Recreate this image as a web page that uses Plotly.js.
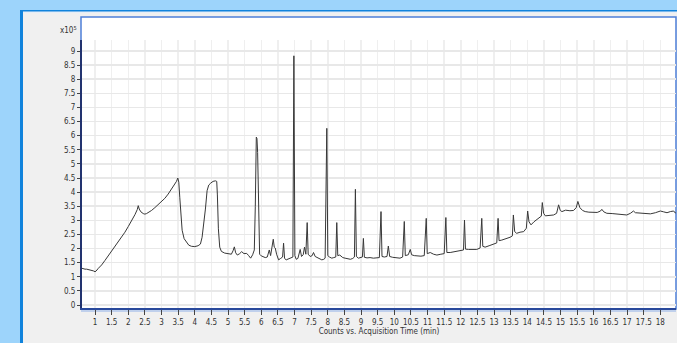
<!DOCTYPE html>
<html>
<head>
<meta charset="utf-8">
<script src="https://cdn.plot.ly/plotly-3.0.1.min.js"></script>
<style>
html,body{margin:0;padding:0;background:#9dd4fb;}
#chart{width:677px;height:343px;}
</style>
</head>
<body>
<div id="chart"></div>
<script>
// Acquisition time (min)
const timeMin = [
0.61,0.65,0.70,0.75,0.80,0.85,0.90,0.95,1.00,1.03,
1.10,1.20,1.30,1.40,1.50,1.60,1.70,1.80,1.90,2.00,2.10,2.20,2.27,2.30,2.33,2.38,2.45,2.50,2.55,2.60,
2.70,2.80,2.90,3.00,3.10,3.20,3.30,3.40,3.45,3.49,3.52,3.55,3.58,3.62,3.68,3.75,3.82,3.90,4.00,4.10,
4.17,4.22,4.27,4.32,4.37,4.42,4.48,4.55,4.62,4.66,4.68,4.71,4.75,4.80,4.90,5.00,5.10,5.15,5.19,5.23,
5.28,5.35,5.41,5.48,5.56,5.62,5.68,5.74,5.79,5.82,5.85,5.87,5.89,5.92,5.95,6.00,6.06,6.12,6.18,6.24,
6.28,6.33,6.36,6.39,6.42,6.46,6.52,6.58,6.64,6.67,6.70,6.75,6.82,6.90,6.95,6.98,7.01,7.05,7.10,7.17,
7.21,7.26,7.30,7.34,7.38,7.41,7.47,7.53,7.57,7.62,7.70,7.76,7.82,7.88,7.92,7.97,8.00,8.05,8.12,8.18,
8.24,8.27,8.30,8.36,8.45,8.52,8.60,8.68,8.75,8.80,8.83,8.86,8.92,8.98,9.04,9.07,9.10,9.18,9.27,9.37,
9.45,9.55,9.60,9.63,9.70,9.78,9.82,9.86,9.95,10.05,10.17,10.25,10.30,10.33,10.42,10.48,10.52,10.60,10.68,10.80,
10.90,10.96,10.99,11.08,11.18,11.28,11.40,11.50,11.55,11.58,11.68,11.80,11.90,12.00,12.08,12.11,12.14,12.23,12.35,12.48,
12.58,12.63,12.66,12.73,12.85,12.98,13.08,13.12,13.15,13.23,13.35,13.48,13.55,13.58,13.62,13.68,13.78,13.89,13.97,14.01,
14.05,14.11,14.20,14.34,14.42,14.45,14.49,14.54,14.65,14.79,14.88,14.94,14.99,15.04,15.15,15.28,15.39,15.47,15.52,15.58,
15.66,15.74,15.85,15.99,16.10,16.20,16.24,16.30,16.39,16.55,16.70,16.79,16.90,16.99,17.10,17.19,17.25,17.40,17.55,17.70,
17.85,18.00,18.10,18.20,18.30,18.40,18.45,18.48
];
// Counts (x10^5)
const counts1e5 = [
1.30,1.28,1.27,1.27,1.26,1.25,1.24,1.21,1.18,1.20,
1.30,1.42,1.58,1.74,1.90,2.06,2.22,2.40,2.58,2.78,2.98,3.20,3.38,3.52,3.40,3.30,3.24,3.22,3.24,3.27,
3.35,3.45,3.55,3.66,3.78,3.93,4.10,4.28,4.38,4.50,4.35,3.80,3.10,2.65,2.35,2.22,2.12,2.08,2.07,2.10,
2.16,2.40,2.85,3.40,4.05,4.25,4.32,4.38,4.40,4.38,3.90,2.70,2.05,1.90,1.84,1.81,1.80,1.92,2.06,1.85,
1.77,1.82,1.89,1.82,1.83,1.75,1.66,1.78,1.95,3.50,5.95,5.90,5.40,2.50,1.80,1.74,1.71,1.68,1.70,1.95,
1.75,2.10,2.33,2.05,2.02,1.80,1.60,1.65,1.70,2.19,1.65,1.60,1.63,1.66,1.70,8.83,1.75,1.62,1.65,1.97,
1.72,1.78,2.05,1.80,2.92,1.80,1.72,1.75,1.86,1.72,1.66,1.63,1.60,1.62,1.66,6.26,1.75,1.70,1.66,1.68,
1.70,2.92,1.75,1.77,1.68,1.66,1.64,1.62,1.65,1.70,4.10,1.72,1.66,1.68,1.70,2.36,1.69,1.67,1.68,1.66,
1.67,1.68,3.31,1.72,1.70,1.72,2.09,1.72,1.69,1.67,1.66,1.70,2.96,1.75,1.78,1.97,1.78,1.75,1.74,1.73,
1.75,3.07,1.82,1.86,1.80,1.77,1.80,1.82,3.10,1.86,1.86,1.88,1.90,1.93,1.95,3.01,1.98,1.97,1.98,1.97,
2.02,3.07,2.08,2.05,2.10,2.16,2.20,3.07,2.28,2.30,2.34,2.40,2.45,3.19,2.60,2.54,2.58,2.60,2.72,3.33,
2.95,2.84,2.95,3.07,3.15,3.63,3.25,3.16,3.18,3.19,3.25,3.55,3.35,3.31,3.36,3.34,3.35,3.45,3.67,3.45,
3.35,3.31,3.29,3.27,3.28,3.33,3.39,3.30,3.25,3.24,3.22,3.21,3.20,3.19,3.25,3.33,3.27,3.25,3.24,3.23,
3.27,3.33,3.30,3.27,3.31,3.33,3.26,3.28
];
const xTickVals = [1,1.5,2,2.5,3,3.5,4,4.5,5,5.5,6,6.5,7,7.5,8,8.5,9,9.5,10,10.5,11,11.5,12,12.5,13,13.5,14,14.5,15,15.5,16,16.5,17,17.5,18];
const xTickText = ["1","1.5","2","2.5","3","3.5","4","4.5","5","5.5","6","6.5","7","7.5","8","8.5","9","9.5","10","10.5","11","11.5","12","12.5","13","13.5","14","14.5","15","15.5","16","16.5","17","17.5","18"];
const yTickVals = [0,0.5,1,1.5,2,2.5,3,3.5,4,4.5,5,5.5,6,6.5,7,7.5,8,8.5,9];
const yTickText = ["0","0.5","1","1.5","2","2.5","3","3.5","4","4.5","5","5.5","6","6.5","7","7.5","8","8.5","9"];
const xTitle = "Counts vs. Acquisition Time (min)";
const yMultiplier = "x10<sup>5</sup>";

// plot area in pixels
const W = 677, H = 343;
const mL = 82, mR = 1, mT = 40, mB = 35;
const pw = W - mL - mR, ph = H - mT - mB;
const px = X => (X - mL) / pw;
const py = Y => (H - mB - Y) / ph;

const tickFont = {family: "'DejaVu Sans Condensed', 'Liberation Sans Narrow', sans-serif", size: 8, color: '#333'};

const shapes = [
  // window frame
  {type:'rect', xref:'paper', yref:'paper', x0:px(20), x1:px(690), y0:py(10), y1:py(360),
   fillcolor:'#1083dc', line:{width:0}, layer:'below'},
  {type:'rect', xref:'paper', yref:'paper', x0:px(23), x1:px(690), y0:py(13), y1:py(360),
   fillcolor:'#f0f0f0', line:{width:0}, layer:'below'},
  {type:'rect', xref:'paper', yref:'paper', x0:px(23), x1:px(690), y0:py(11.5), y1:py(13),
   fillcolor:'#e6eef8', line:{width:0}, layer:'below'},
  // white chart area
  {type:'rect', xref:'paper', yref:'paper', x0:px(81), x1:px(676), y0:py(17), y1:py(309),
   fillcolor:'#ffffff', line:{color:'#4d7fd8', width:1.5}, layer:'below'},
  // lighter line under the x axis
  {type:'line', xref:'paper', yref:'paper', x0:px(81), x1:px(676), y0:py(311), y1:py(311),
   line:{color:'#8fb0e8', width:1}, layer:'below'}
];

const trace = {
  x: timeMin, y: counts1e5, type:'scatter', mode:'lines',
  line:{color:'#383838', width:1}, hoverinfo:'skip'
};

const layout = {
  width: W, height: H,
  margin:{l:mL, r:mR, t:mT, b:mB, pad:0},
  paper_bgcolor:'#9dd4fb',
  plot_bgcolor:'#ffffff',
  showlegend:false,
  xaxis:{
    range:[0.609, 18.47], tickvals:xTickVals, ticktext:xTickText,
    ticks:'outside', ticklen:5, tickwidth:1, tickcolor:'#444',
    showgrid:true, gridcolor:'#efefef', gridwidth:1.5,
    showline:true, linecolor:'#2a4a9c', linewidth:2, zeroline:false,
    tickfont:tickFont,
    title:{text:xTitle, font:tickFont, standoff:1}
  },
  yaxis:{
    range:[-0.106, 9.39], tickvals:yTickVals, ticktext:yTickText,
    ticks:'outside', ticklen:3, tickwidth:1, tickcolor:'#444',
    showgrid:true, gridcolor:'#e8e8e8', gridwidth:1.5,
    showline:true, linecolor:'#22336f', linewidth:2, zeroline:false,
    tickfont:tickFont
  },
  shapes: shapes,
  annotations:[
    {xref:'paper', yref:'paper', x:px(79), y:py(30), xanchor:'right', yanchor:'middle',
     text:yMultiplier, showarrow:false, font:tickFont}
  ]
};

Plotly.newPlot('chart', [trace], layout, {staticPlot:true, displayModeBar:false});
</script>
</body>
</html>
